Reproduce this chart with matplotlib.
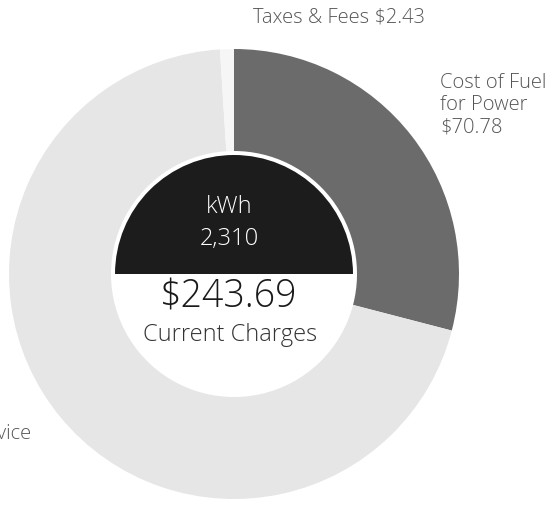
import matplotlib.pyplot as plt
from matplotlib.patches import Wedge

# Data
labels = ['Cost of Fuel\nfor Power', 'Electric Service', 'Taxes & Fees']
values = [70.78, 170.48, 2.43]
colors = ['#6b6b6b', '#e6e6e6', '#f6f6f6']
kwh = '2,310'
total = '$243.69'

plt.rcParams['font.family'] = ['Open Sans', 'DejaVu Sans']
plt.rcParams['font.weight'] = 'light'

fig = plt.figure(figsize=(5.6, 5.06), dpi=100)
ax = fig.add_axes([0, 0, 1, 1])

cx, cy = 234, 506 - 275
R = 225

ax.pie(values, colors=colors, startangle=90, counterclock=False,
       center=(cx, cy), radius=R, frame=True,
       wedgeprops=dict(width=R - 123, edgecolor='none'))
ax.set_xlim(0, 560)
ax.set_ylim(0, 506)
ax.axis('off')

# centre disc: dark upper half, white lower half
ax.add_patch(Wedge((cx, cy), 119, 0, 180, facecolor='#1c1c1c', edgecolor='none'))
ax.add_patch(Wedge((cx, cy), 119, 180, 360, facecolor='white', edgecolor='none'))

ax.text(cx - 5, cy + 68, 'kWh', color='white', fontsize=17, ha='center', va='center')
ax.text(cx - 5, cy + 36, kwh, color='white', fontsize=17, ha='center', va='center')
ax.text(cx - 5, cy - 22, total, color='#1a1a1a', fontsize=27, ha='center', va='center')
ax.text(cx - 4, cy - 60, 'Current Charges', color='#333333', fontsize=17,
        ha='center', va='center')

lab_color = '#555555'
ax.text(339, 506 - 17, f'{labels[2]} ${values[2]:.2f}', color=lab_color,
        fontsize=14.5, ha='center', va='center')
ax.text(440, 506 - 105, f'{labels[0]}\n${values[0]:.2f}', color=lab_color,
        fontsize=14.5, ha='left', va='center', linespacing=1.15)
ax.text(31, 506 - 434, labels[1], color=lab_color, fontsize=14.5,
        ha='right', va='center')

fig.savefig('out.png', dpi=100, facecolor='white')
